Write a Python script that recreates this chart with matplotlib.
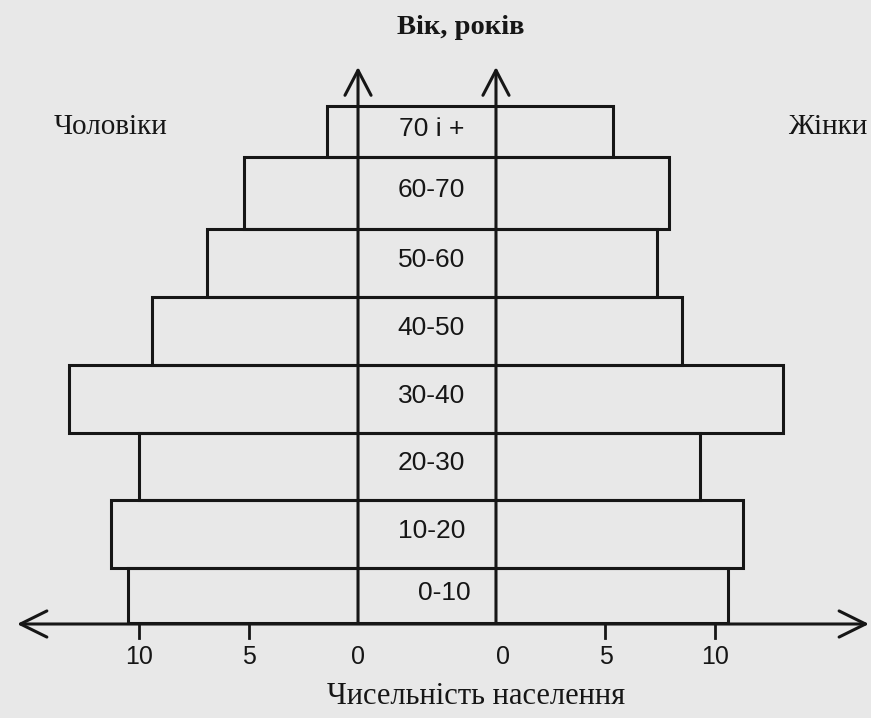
import matplotlib.pyplot as plt

# вікова піраміда
ages = ['0-10', '10-20', '20-30', '30-40', '40-50', '50-60', '60-70', '70 і +']
men = [10.5, 11.3, 10.0, 13.2, 9.4, 6.9, 5.2, 1.4]
women = [10.6, 11.3, 9.3, 13.1, 8.5, 7.35, 7.9, 5.35]
ticks = [0, 5, 10]

row_h = [55, 68, 67, 68, 68, 68, 72, 51]  # висота смуг (px)
gap = 3.15      # половина проміжку між двома осями
k = 21.9        # px на одиницю
ink = '#161616'
bg = '#e8e8e8'

fig = plt.figure(figsize=(8.71, 7.18), dpi=100, facecolor=bg)
ax = fig.add_axes([0, 0, 1, 1])
ax.set_facecolor(bg)
ax.set_xlim(-427 / k, 444 / k)
ax.set_ylim(-95, 623)
ax.axis('off')

bottoms = [sum(row_h[:i]) for i in range(len(row_h))]
lefts = [-gap - m for m in men]
widths = [m + 2 * gap + w for m, w in zip(men, women)]
ax.barh(bottoms, widths, height=row_h, left=lefts, align='edge',
        fill=False, edgecolor=ink, lw=2.2)

sans = ['Liberation Sans', 'DejaVu Sans']
for i, (b, h, a) in enumerate(zip(bottoms, row_h, ages)):
    ax.text(0.2 + (0.6 if i == 0 else 0), b + h / 2 + 3, a, ha='center', va='center',
            fontsize=19, family=sans, color=ink)

# осі зі стрілками
head = dict(lw=2.2, color=ink, mutation_scale=20, shrinkA=0, shrinkB=0)
for xx in (-gap, gap):
    ax.annotate('', xy=(xx, 556), xytext=(xx, 0),
                arrowprops=dict(arrowstyle='->,head_length=0.9,head_width=0.47', **head))
ax.annotate('', xy=(-18.72, -1), xytext=(20.18, -1),
            arrowprops=dict(arrowstyle='<->,head_length=0.95,head_width=0.47', **head))

for t in ticks:
    for sgn in (-1, 1):
        xx = sgn * (gap + t)
        if t > 0:
            ax.plot([xx, xx], [0, -15], color=ink, lw=2)
        ax.text(xx + (0.3 if (sgn > 0 and t == 0) else 0), -34, str(t),
                ha='center', va='center', fontsize=18, family=sans, color=ink)

serif = ['Liberation Serif', 'DejaVu Serif']
ax.text(-14.43, 496, 'Чоловіки', ha='center', va='center', fontsize=21, family=serif, color=ink)
ax.text(18.3, 496, 'Жінки', ha='center', va='center', fontsize=21, family=serif, color=ink)
ax.text(1.55, 596, 'Вік, років', ha='center', va='center', fontsize=20.5, family=serif,
        weight='bold', color=ink)
ax.text(2.24, -74, 'Чисельність населення', ha='center', va='center', fontsize=22,
        family=serif, color=ink)

plt.savefig('out.png', dpi=100, facecolor=bg)
